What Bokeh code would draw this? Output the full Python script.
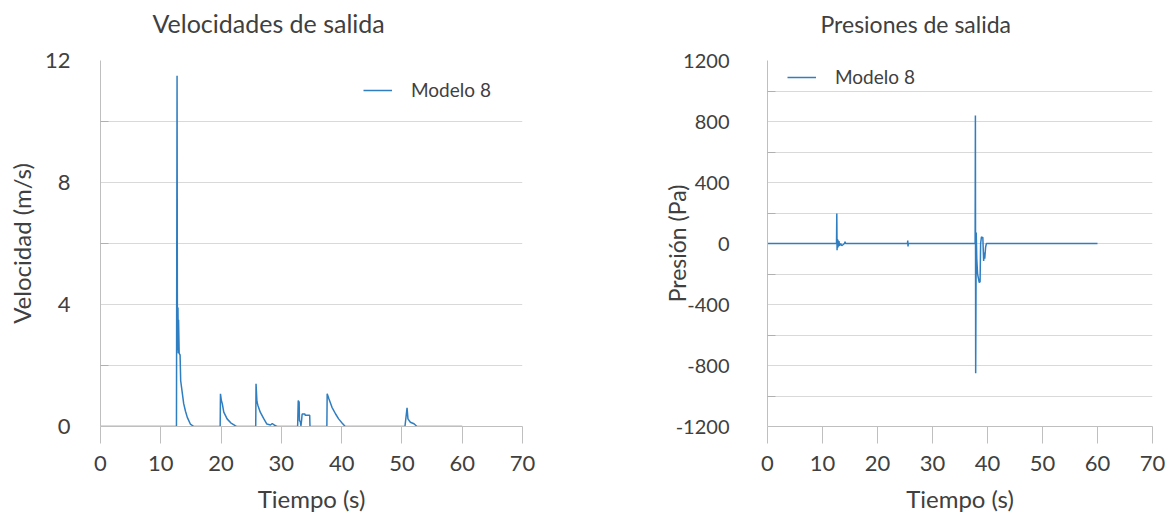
from bokeh.plotting import figure
from bokeh.layouts import row
from bokeh.models import FixedTicker, Range1d, Legend, LegendItem, PrintfTickFormatter, Title
from bokeh.embed import file_html
from bokeh.resources import INLINE

# ---------------- data ----------------
vel_t = [0, 12.6, 12.7, 12.75, 12.8, 12.85, 12.9, 12.95, 13.05, 13.2, 13.3, 13.5, 13.8, 14.1, 14.4, 14.9, 15.5,
         19.85, 19.9, 20.05, 20.2, 20.45, 21.0, 21.6, 22.4, 22.6,
         25.75, 25.8, 25.95, 26.1, 26.5, 27.1, 27.6, 28.2, 28.5, 28.8, 29.1, 29.3,
         32.7, 32.8, 32.95, 33.0, 33.15, 33.25, 33.35, 33.45, 33.9, 33.95, 34.7, 34.75,
         37.55, 37.6, 37.9, 38.4, 39.0, 39.5, 40.1, 40.6,
         50.5, 50.85, 51.0, 51.4, 52.0, 52.5, 60]
vel_v = [0, 0, 11.5, 4.0, 2.5, 3.9, 2.4, 3.5, 2.4, 2.35, 1.5, 1.2, 0.75, 0.5, 0.3, 0.08, 0,
         0, 1.07, 0.85, 0.75, 0.47, 0.25, 0.12, 0.02, 0,
         0, 1.40, 0.82, 0.7, 0.47, 0.25, 0.08, 0.05, 0.1, 0.05, 0.02, 0,
         0, 0.85, 0.8, 0.2, 0.15, 0.02, 0.2, 0.41, 0.41, 0.37, 0.37, 0,
         0, 1.07, 0.9, 0.63, 0.41, 0.25, 0.11, 0,
         0, 0.61, 0.25, 0.14, 0.09, 0, 0]

pres_t = [0, 12.55, 12.6, 12.65, 12.7, 12.75, 12.8, 12.9, 13.0, 13.1, 13.3, 13.5, 14.0, 14.1, 14.2,
          25.45, 25.5, 25.55, 25.6,
          37.75, 37.8, 37.85, 37.95, 38.05, 38.2, 38.5, 38.65, 38.75, 38.9, 39.0, 39.15, 39.3, 39.4, 39.5, 39.65, 39.8, 60]
pres_p = [0, 0, 197, -44, 30, -30, 25, -20, 15, -15, 0, -15, 0, 11, 0,
          0, 20, -20, 0,
          0, 840, -850, 72, -100, -201, -256, -250, 0, 44, 39, 40, -114, -60, -100, -26, 0, 0]

x_ticks = [0, 10, 20, 30, 40, 50, 60, 70]
vel_ticks = [0, 4, 8, 12]
vel_grid = [0, 2, 4, 6, 8, 10, 12]
pres_ticks = [-1200, -800, -400, 0, 400, 800, 1200]
pres_grid = [-1200, -1000, -800, -600, -400, -200, 0, 200, 400, 600, 800, 1000, 1200]

series_name = "Modelo 8"
titles = ["Velocidades de salida", "Presiones de salida"]
xlabel = "Tiempo (s)"
ylabels = ["Velocidad (m/s)", "Presión (Pa)"]

# ---------------- style ----------------
FONT = "Lato"
TXT = "#404040"
GRID = "#d9d9d9"
AX = "#bfbfbf"
LINE = "#2f7ec1"


def make(title, ylabel, xs, ys, yr, yticks, ygrid, minor, width, mbl, mbr, leg_xy, title_off,
         ylab_standoff, tick_standoff, ytick_size, title_size, ylab_size):
    p = figure(width=width, height=520, output_backend="svg", toolbar_location=None,
               x_range=Range1d(0, 70), y_range=Range1d(*yr),
               min_border_left=mbl, min_border_right=mbr, min_border_top=60, min_border_bottom=94)
    p.outline_line_color = None
    p.background_fill_color = "white"
    p.border_fill_color = "white"

    # spacer between the frame and the chart title
    p.add_layout(Title(text=" ", text_font_size="1px", standoff=20), "above")

    p.title.text = title
    p.title.text_font = FONT
    p.title.text_font_size = title_size
    p.title.text_font_style = "normal"
    p.title.text_color = TXT
    p.title.align = "left"
    p.title.offset = title_off
    p.title.standoff = 0

    r = p.line(xs, ys, line_color=LINE, line_width=1.5)

    xa = p.xaxis[0]
    xa.ticker = FixedTicker(ticks=x_ticks, minor_ticks=[])
    xa.axis_line_color = AX
    xa.major_tick_line_color = AX
    xa.major_tick_in = 0
    xa.major_tick_out = 17
    xa.minor_tick_line_color = None
    xa.major_label_text_font = FONT
    xa.major_label_text_font_size = "22px"
    xa.major_label_text_color = TXT
    xa.major_label_standoff = 12
    xa.axis_label = xlabel
    xa.axis_label_text_font = FONT
    xa.axis_label_text_font_size = "24px"
    xa.axis_label_text_font_style = "normal"
    xa.axis_label_text_color = TXT
    xa.axis_label_standoff = 10

    ya = p.yaxis[0]
    ya.ticker = FixedTicker(ticks=yticks, minor_ticks=minor)
    ya.formatter = PrintfTickFormatter(format="%d")
    ya.axis_line_color = AX
    ya.major_tick_line_color = None
    ya.minor_tick_line_color = "#b0b0b0"
    ya.minor_tick_in = 8
    ya.minor_tick_out = 0
    ya.major_label_text_font = FONT
    ya.major_label_text_font_size = ytick_size
    ya.major_label_text_color = TXT
    ya.major_label_standoff = tick_standoff
    ya.axis_label = ylabel
    ya.axis_label_text_font = FONT
    ya.axis_label_text_font_size = ylab_size
    ya.axis_label_text_font_style = "normal"
    ya.axis_label_text_color = TXT
    ya.axis_label_standoff = ylab_standoff

    p.xgrid.grid_line_color = None
    p.ygrid.ticker = FixedTicker(ticks=ygrid)
    p.ygrid.grid_line_color = GRID
    p.ygrid.grid_line_width = 1

    leg = Legend(items=[LegendItem(label=series_name, renderers=[r])], location=leg_xy,
                 padding=0, margin=0, border_line_color=None, background_fill_alpha=0,
                 glyph_width=29, glyph_height=20, label_height=20, label_width=90, label_standoff=19,
                 label_text_font=FONT, label_text_font_size="19px", label_text_color=TXT)
    p.add_layout(leg)
    return p


p1 = make(titles[0], ylabels[0], vel_t, vel_v, (0, 12), vel_ticks, vel_grid, [2, 6, 10],
          580, 100, 58, (263, 325), 52, 6, 24, "22px", "25px", "24px")
p2 = make(titles[1], ylabels[1], pres_t, pres_p, (-1200, 1200), pres_ticks, pres_grid,
          [-1000, -600, -200, 200, 600, 1000], 589, 187, 17, (20, 338), 53, -18, 32, "20px", "23px", "23px")

layout = row(p1, p2)
open("out.html", "w").write(file_html(layout, INLINE))
